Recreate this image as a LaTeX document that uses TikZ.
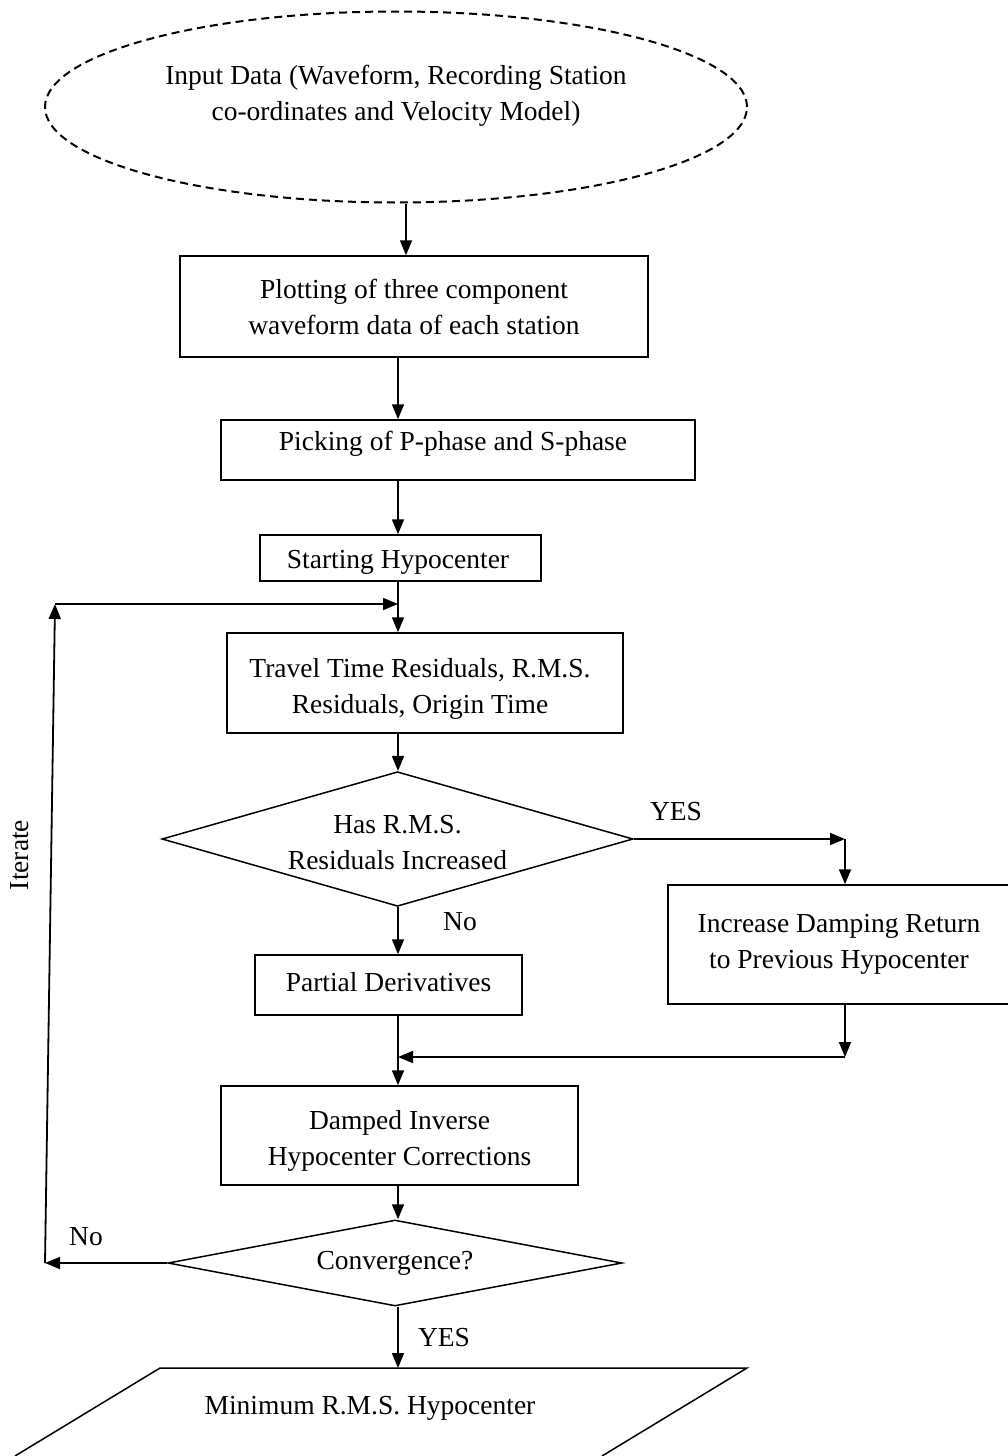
\documentclass[tikz,border=0pt]{standalone}
\usepackage{fontspec}
\setmainfont{Liberation Serif}
\usetikzlibrary{shapes.geometric,arrows.meta,calc}
\newcommand{\flowfont}{\fontsize{27.5}{36}\selectfont}
\newcommand{\twolines}[2]{\begin{tabular}{@{}c@{}}#1\\#2\end{tabular}}
% move text vertically inside its shape without changing the box size
\newcommand{\nudge}[2]{\raisebox{#1}[\height][\depth]{#2}}
\begin{document}
\begin{tikzpicture}[x=1pt,y=-1pt,
  box/.style={draw, line width=1.5pt, inner sep=0pt, align=center, font=\flowfont},
  decision/.style={diamond, draw, line width=1.5pt, inner sep=0pt, align=center, font=\flowfont},
  lbl/.style={font=\flowfont, inner sep=0pt},
  arr/.style={-{Triangle[length=15pt,width=12pt]}, line width=1.8pt}]
\useasboundingbox (0,0) rectangle (1008,1456);

% input data
\node[ellipse, draw, dashed, dash pattern=on 8pt off 5pt, line width=2pt,
      minimum width=702, minimum height=191] (in) at (396,107) {};
\node[lbl, align=center] (intext) at (396,96)
      {Input Data (Waveform, Recording Station\\co-ordinates and Velocity Model)};

% process boxes
\node[box, minimum width=468, minimum height=101] (b1) at (414,306.5)
      {Plotting of three component\\waveform data of each station};
\node[box, minimum width=474, minimum height=60] (b2) at (458,450)
      {\nudge{6.5pt}{\hspace*{-10pt}Picking of P-phase and S-phase}};
\node[box, minimum width=281, minimum height=46] (b3) at (400.5,558)
      {\nudge{-4pt}{\hspace*{-5pt}Starting Hypocenter}};
\node[box, minimum width=396, minimum height=100] (b4) at (425,683)
      {\nudge{-5.5pt}{\hspace*{-10pt}\twolines{Travel Time Residuals, R.M.S.}{Residuals, Origin Time}}};
\node[decision, shape aspect=3.5, minimum width=471, minimum height=132] (d1) at (397.5,839)
      {\nudge{-5pt}{\twolines{Has R.M.S.}{Residuals Increased}}};
\node[box, minimum width=342, minimum height=119] (b5) at (839,944.5)
      {Increase Damping Return\\to Previous Hypocenter};
\node[box, minimum width=267, minimum height=60] (b6) at (388.5,985)
      {\nudge{2.5pt}{Partial Derivatives}};
\node[box, minimum width=357, minimum height=99] (b7) at (399.5,1135.5)
      {\nudge{-5pt}{\twolines{Damped Inverse}{Hypocenter Corrections}}};
\node[decision, shape aspect=5, minimum width=454, minimum height=86] (d2) at (395,1263)
      {Convergence?};

% output parallelogram
\draw[line width=1.5pt] (15,1456) -- (160,1368) -- (747,1368) -- (602,1456);
\node[lbl] (out) at (370,1408) {Minimum R.M.S. Hypocenter};
\coordinate (outtop) at (398,1368);

% routing points
\coordinate (axis) at (398,0);
\coordinate (ax1) at (406,0);
\coordinate (fb) at (398,604);
\coordinate (lx) at (55,604);
\coordinate (lb) at (45,1263);
\coordinate (yc) at (845,839);
\coordinate (rc) at (845,1057);

% main flow
\draw[arr] (in.south -| ax1) -- (b1.north -| ax1);
\draw[arr] (b1.south -| axis) -- (b2.north -| axis);
\draw[arr] (b2.south -| axis) -- (b3.north -| axis);
\draw[arr] (b3.south -| axis) -- (b4.north -| axis);
\draw[arr] (b4.south -| axis) -- (d1.north -| axis);
\draw[arr] (d1.south -| axis) -- (b6.north -| axis);
\draw[arr] (b6.south -| axis) -- (b7.north -| axis);
\draw[arr] (b7.south -| axis) -- (d2.north -| axis);
\draw[arr] (d2.south -| axis) -- (outtop);

% yes branch
\draw[arr] (d1.east) -- (yc);
\draw[arr] (yc) -- (b5.north -| yc);
\draw[arr] (b5.south -| rc) -- (rc);
\draw[arr] (rc) -- (rc -| axis);

% iteration loop
\draw[arr] (d2.west) -- (lb);
\draw[arr] (lb) -- (lx);
\draw[arr] (lx) -- (fb);

% labels
\node[lbl] (yes1) at (676,812) {YES};
\node[lbl] (no1) at (460,922) {No};
\node[lbl] (no2) at (86,1237) {No};
\node[lbl] (yes2) at (444,1338) {YES};
\node[lbl, rotate=90] (iter) at (20,855) {Iterate};
\end{tikzpicture}
\end{document}
